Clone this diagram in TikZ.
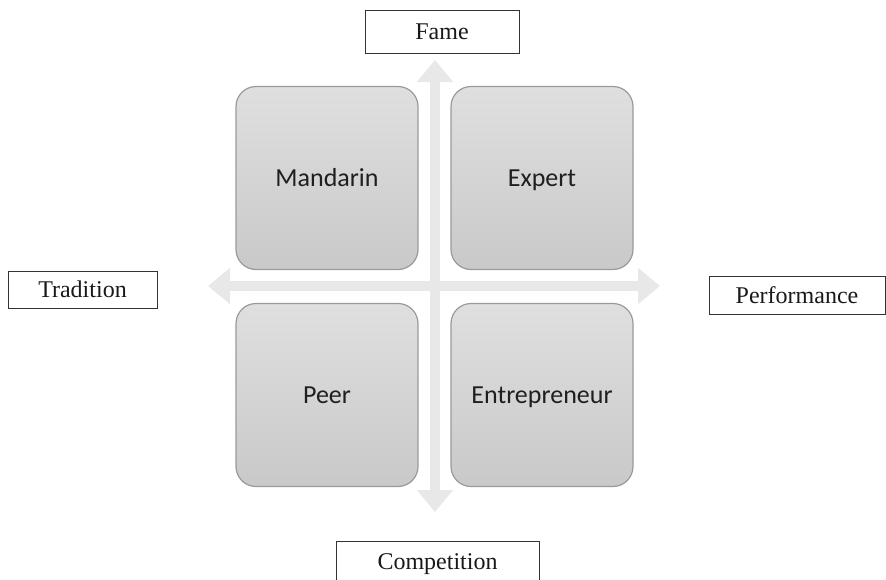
\documentclass[tikz,border=0pt]{standalone}
\usepackage{fontspec}
\setmainfont{Liberation Serif}
\newfontfamily\boxfont{Carlito}
\usetikzlibrary{arrows.meta}
\definecolor{arrowgray}{HTML}{E8E8E8}
\definecolor{quadtop}{HTML}{DFDFDF}
\definecolor{quadbot}{HTML}{C9C9C9}
\definecolor{quadline}{HTML}{9A9A9A}
\tikzset{
  quad/.style={draw=quadline, line width=1.2pt, rounded corners=20pt,
    top color=quadtop, bottom color=quadbot,
    minimum width=182pt, minimum height=183pt, inner sep=0pt,
    text height=17pt, text depth=0pt,
    font=\boxfont\fontsize{26}{30}\selectfont, text=black!88},
  lbl/.style={draw=black!80, line width=0.8pt, fill=white, inner sep=0pt,
    text height=16pt, text depth=0pt,
    font=\fontsize{24}{28}\selectfont, text=black!90},
  axis/.style={draw=arrowgray, line width=10pt,
    {Triangle[length=22pt,width=35pt]}-{Triangle[length=22pt,width=35pt]}}
}
\begin{document}
\begin{tikzpicture}[x=1pt,y=-1pt]
\useasboundingbox (0,0) rectangle (886,579);
\fill[white] (0,0) rectangle (886,579);
% axes
\coordinate (lt) at (208,286);
\coordinate (rt) at (660,286);
\coordinate (tp) at (435,60);
\coordinate (bt) at (435,512);
\draw[axis] (lt) -- (rt);
\draw[axis] (tp) -- (bt);
% quadrants
\node[quad] (mandarin) at (327,178) {Mandarin};
\node[quad] (expert) at (542,178) {Expert};
\node[quad] (peer) at (327,395) {Peer};
\node[quad] (entre) at (542,395) {Entrepreneur};
% labels
\node[lbl, minimum width=154pt, minimum height=43pt] (fame) at (442,31.5) {Fame};
\node[lbl, minimum width=149pt, minimum height=37pt] (trad) at (82.5,289.5) {Tradition};
\node[lbl, minimum width=176pt, minimum height=38pt] (perf) at (797,295) {Performance};
\node[lbl, minimum width=203pt, minimum height=41pt] (comp) at (437.5,561.5) {Competition};
\end{tikzpicture}
\end{document}
